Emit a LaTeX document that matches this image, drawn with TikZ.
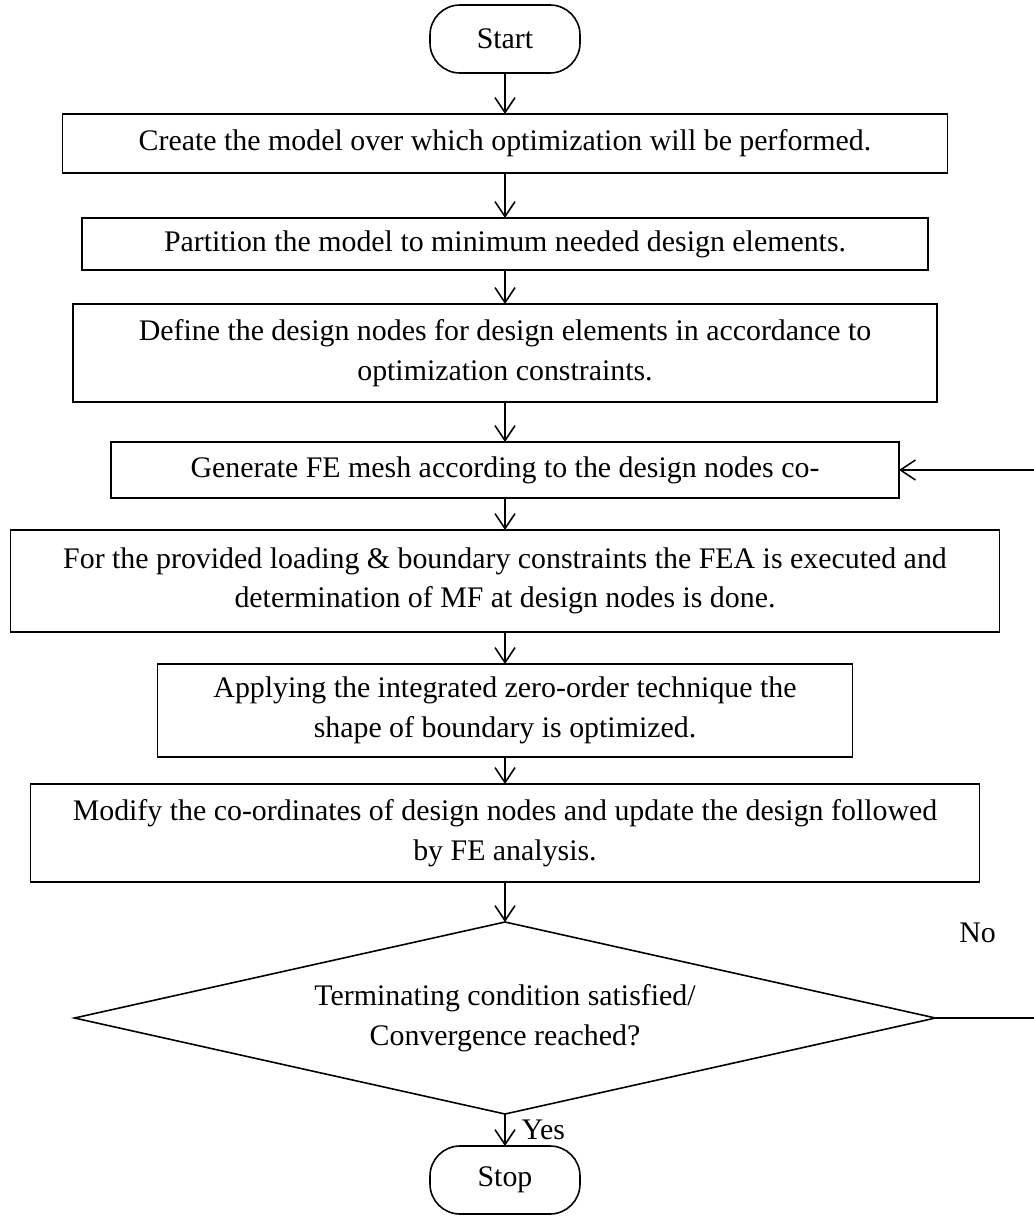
\documentclass[tikz,border=0pt]{standalone}
\usepackage{fontspec}
\setmainfont{Liberation Serif}
\usetikzlibrary{shapes.geometric, arrows.meta, positioning}

\begin{document}
\begin{tikzpicture}[
    font=\fontsize{17}{22.5}\selectfont,
    term/.style={rectangle, draw=black, rounded corners=0.6cm, minimum width=3.0cm, minimum height=1.36cm, outer sep=0pt, line width=0.9pt},
    stepbox/.style={rectangle, draw=black, align=center, outer sep=0pt, line width=0.9pt},
    decision/.style={diamond, draw=black, align=center, aspect=4.48, minimum width=17.22cm, minimum height=3.84cm, inner sep=0pt, outer sep=0pt, line width=0.9pt},
    arrow/.style={line width=0.9pt, -{Straight Barb[length=0.3cm, width=0.4cm]}},
    lbl/.style={inner sep=1pt}
]
    \useasboundingbox (0,0) rectangle (20.68,-24.48);

    % Start
    \node (start) [term] at (10.1,-0.78) {Start};

    % Steps
    \node (model) [stepbox, below=0.82cm of start, minimum width=17.7cm, minimum height=1.18cm] {Create the model over which optimization will be performed.};
    \node (part) [stepbox, below=0.9cm of model, minimum width=16.92cm, minimum height=1.04cm] {Partition the model to minimum needed design elements.};
    \node (dnodes) [stepbox, below=0.68cm of part, minimum width=17.28cm, minimum height=1.96cm] {Define the design nodes for design elements in accordance to\\optimization constraints.};
    \node (mesh) [stepbox, below=0.8cm of dnodes, minimum width=15.76cm, minimum height=1.12cm] {Generate FE mesh according to the design nodes co-};
    \node (fea) [stepbox, below=0.64cm of mesh, minimum width=19.78cm, minimum height=2.04cm] {For the provided loading \& boundary constraints the FEA is executed and\\determination of MF at design nodes is done.};
    \node (zero) [stepbox, below=0.64cm of fea, minimum width=13.9cm, minimum height=1.86cm] {Applying the integrated zero-order technique the\\shape of boundary is optimized.};
    \node (modify) [stepbox, below=0.54cm of zero, minimum width=18.98cm, minimum height=1.96cm] {Modify the co-ordinates of design nodes and update the design followed\\by FE analysis.};

    % Decision and Stop
    \node (dec) [decision, below=0.8cm of modify] {Terminating condition satisfied/\\Convergence reached?};
    \node (stop) [term, below=0.64cm of dec] {Stop};

    % Arrows
    \draw [arrow] (start) -- (model);
    \draw [arrow] (model) -- (part);
    \draw [arrow] (part) -- (dnodes);
    \draw [arrow] (dnodes) -- (mesh);
    \draw [arrow] (mesh) -- (fea);
    \draw [arrow] (fea) -- (zero);
    \draw [arrow] (zero) -- (modify);
    \draw [arrow] (modify) -- (dec);
    \draw [arrow] (dec.south) -- node [lbl, right, xshift=0.28cm] {Yes} (stop.north);
    \draw [arrow] (dec.east) -- ++(2.3,0) |- (mesh.east);
    \node (no) [lbl] at ([xshift=0.84cm, yshift=1.7cm] dec.east) {No};
\end{tikzpicture}
\end{document}
